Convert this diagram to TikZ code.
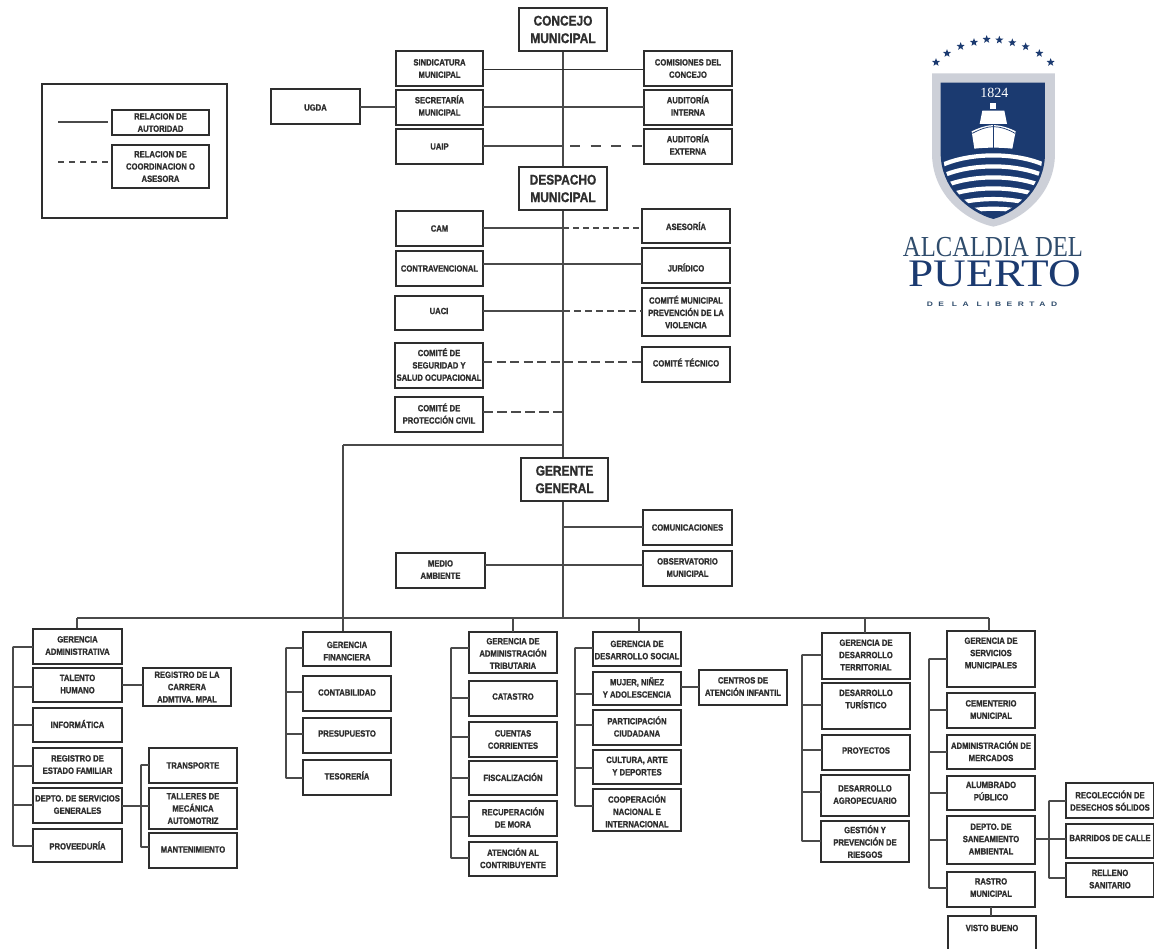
\documentclass[tikz,border=0pt]{standalone}
\usepackage{fontspec}
\newfontfamily\lblfont{Liberation Sans}[BoldFeatures={FakeStretch=0.85,FakeBold=1.2}]
\newfontfamily\serifl{Liberation Serif}
\newfontfamily\sansl{Liberation Sans}[LetterSpace=65]
\usetikzlibrary{shapes.geometric}
\definecolor{ink}{HTML}{2E2E2E}
\definecolor{wire}{HTML}{4A4A4A}
\definecolor{navy}{HTML}{1B3A70}
\definecolor{shieldgrey}{HTML}{CDD0D8}
\definecolor{logotext}{HTML}{2F4C6C}
\tikzset{
  boxshape/.style={draw=ink,line width=1.5pt,fill=white,inner sep=0pt,outer sep=0pt},
  txt/.style={inner sep=0pt,align=center,text=ink,font=\lblfont\bfseries\fontsize{9}{12.3}\selectfont},
  big/.style={font=\lblfont\bfseries\fontsize{14}{17.5}\selectfont},
  wireline/.style={draw=wire,line width=1.2pt},
  thin wire/.style={draw=ink,line width=0.9pt},
  dash wire/.style={draw=wire,line width=1.2pt,dash pattern=on 8pt off 6pt},
}
% [text style]{name}{x1}{y1}{x2}{y2}{text}
\newcommand\bx[7][]{%
  \pgfmathsetmacro\bw{#5-#3}\pgfmathsetmacro\bh{#6-#4}%
  \pgfmathsetmacro\bcx{(#3+#5)/2}\pgfmathsetmacro\bcy{(#4+#6)/2}%
  \node[boxshape,minimum width=\bw pt,minimum height=\bh pt] (#2) at (\bcx,\bcy) {};%
  \node[txt,#1] (#2-t) at (\bcx,\bcy) {#7};%
}
\newcommand\hcon[4][wireline]{\coordinate (P) at (0,#4);\draw[#1] (#2.east |- P) -- (#3.west |- P);}
\newcommand\bus[4]{\coordinate (#1) at (#2,0);\coordinate (Pa) at (0,#3);\coordinate (Pb) at (0,#4);\draw[wireline,line cap=round] (#1 |- Pa) -- (#1 |- Pb);}
\newcommand\branch[4][wireline]{\coordinate (P) at (0,#4);\draw[#1] (#2 |- P) -- (#3.west |- P);}
\newcommand\drop[2]{\coordinate (Q) at (#1,618);\draw[wireline] (Q) -- (Q |- #2.north);}
\begin{document}
\begin{tikzpicture}[x=1pt,y=-1pt]
\fill[white] (0,0) rectangle (1154,948);
\useasboundingbox (0,0) rectangle (1154,948);

% ---------- connectors first (boxes sit on top)
\coordinate (trunk) at (563,0);
\coordinate (cTop) at (563,51);
\coordinate (cBot) at (563,618);
\draw[wireline] (cTop) -- (cBot);
\coordinate (leftcorner) at (343,445);
\draw[wireline] (trunk |- leftcorner) -- (leftcorner);
\coordinate (bar) at (77,618);
\coordinate (barR) at (989,618);
\draw[wireline] (bar) -- (barR);
\draw[wireline] (leftcorner) -- (343,631);
\draw[wireline] (bar) -- (77,629);

% ---------- top group
\bx[big]{concejo}{519}{8}{607}{51}{CONCEJO\\MUNICIPAL}
\bx{sind}{396}{51}{483}{86}{SINDICATURA\\MUNICIPAL}
\bx{comis}{644}{51}{732}{86}{COMISIONES DEL\\CONCEJO}
\bx[yshift=2pt]{secre}{396}{90}{483}{125}{SECRETARÍA\\MUNICIPAL}
\bx[yshift=2pt]{audi}{644}{90}{732}{125}{AUDITORÍA\\INTERNA}
\bx{uaip}{396}{129}{483}{164}{UAIP}
\bx[yshift=2pt]{audex}{644}{129}{732}{164}{AUDITORÍA\\EXTERNA}
\bx[yshift=-1pt]{ugda}{271}{89}{360}{124}{UGDA}
\bx[big]{despacho}{519}{167}{607}{210}{DESPACHO\\MUNICIPAL}
\hcon[thin wire]{sind}{comis}{69}
\hcon{secre}{audi}{107}
\hcon{ugda}{secre}{107}
\coordinate (P) at (0,146);
\draw[wireline] (uaip.east |- P) -- (trunk |- P);
\coordinate (dashstart) at (570,146);
\draw[dash wire,dash pattern=on 10pt off 10.5pt] (dashstart) -- (audex.west |- P);

% ---------- despacho group
\bx{cam}{396}{211}{483}{246}{CAM}
\bx{aseso}{642}{209}{730}{243}{ASESORÍA}
\bx{contra}{396}{251}{483}{286}{CONTRAVENCIONAL}
\bx[yshift=-2pt]{juri}{642}{248}{730}{283}{JURÍDICO}
\bx[yshift=2pt]{uaci}{395}{296}{483}{330}{UACI}
\bx{preven}{642}{288}{730}{336}{COMITÉ MUNICIPAL\\PREVENCIÓN DE LA\\VIOLENCIA}
\bx[yshift=1pt]{segur}{395}{343}{483}{388}{COMITÉ DE\\SEGURIDAD Y\\SALUD OCUPACIONAL}
\bx[yshift=2pt]{tecnico}{642}{347}{730}{382}{COMITÉ TÉCNICO}
\bx[yshift=1pt]{civil}{395}{397}{483}{432}{COMITÉ DE\\PROTECCIÓN CIVIL}
\coordinate (P) at (0,228);
\draw[wireline] (cam.east |- P) -- (trunk |- P);
\draw[dash wire,dash pattern=on 6pt off 4pt] (trunk |- P) -- (aseso.west |- P);
\hcon{contra}{juri}{264}
\coordinate (P) at (0,311);
\draw[wireline] (uaci.east |- P) -- (trunk |- P);
\draw[dash wire,dash pattern=on 7pt off 4pt] (trunk |- P) -- (preven.west |- P);
\hcon[dash wire,dash pattern=on 9pt off 4.5pt]{segur}{tecnico}{362}
\coordinate (P) at (0,412);
\draw[dash wire,dash pattern=on 10pt off 4pt] (civil.east |- P) -- (trunk |- P);

% ---------- gerente group
\bx[big]{gerente}{521}{458}{608}{501}{GERENTE\\GENERAL}
\bx{comun}{643}{510}{732}{545}{COMUNICACIONES}
\bx[yshift=1pt]{obser}{643}{551}{732}{586}{OBSERVATORIO\\MUNICIPAL}
\bx[yshift=1pt]{medio}{396}{553}{485}{588}{MEDIO\\AMBIENTE}
\coordinate (P) at (0,527);
\draw[wireline] (trunk |- P) -- (comun.west |- P);
\hcon{medio}{obser}{565}

% ---------- legend
\node[draw=ink,line width=1.1pt,minimum width=185pt,minimum height=134pt,inner sep=0pt] (legend) at (134.5,151) {};
\bx{relauto}{112}{110}{209}{135}{RELACION DE\\AUTORIDAD}
\bx{relcoor}{112}{145}{209}{188}{RELACION DE\\COORDINACION O\\ASESORA}
\coordinate (la) at (58,122);\coordinate (lb) at (58,162);
\coordinate (lc) at (108,122);\coordinate (ld) at (108,162);
\draw[wireline] (la) -- (lc);
\draw[dash wire,dash pattern=on 6pt off 5pt] (lb) -- (ld);

% ---------- gerencia administrativa
\bx[yshift=1pt]{gadm}{33}{629}{122}{664}{GERENCIA\\ADMINISTRATIVA}
\bx[yshift=1pt]{talento}{33}{668}{122}{702}{TALENTO\\HUMANO}
\bx[yshift=1pt]{infor}{33}{708}{122}{742}{INFORMÁTICA}
\bx[yshift=1pt]{regest}{33}{748}{122}{783}{REGISTRO DE\\ESTADO FAMILIAR}
\bx[yshift=1pt]{deptoS}{33}{788}{122}{823}{DEPTO. DE SERVICIOS\\GENERALES}
\bx{provee}{33}{829}{122}{862}{PROVEEDURÍA}
\bus{bA}{13}{647}{846}
\branch{bA}{gadm}{647}\branch{bA}{talento}{687}\branch{bA}{infor}{725}
\branch{bA}{regest}{766}\branch{bA}{deptoS}{805}\branch{bA}{provee}{846}
\bx{regcar}{143}{668}{231}{706}{REGISTRO DE LA\\CARRERA\\ADMTIVA. MPAL}
\hcon{talento}{regcar}{685}
\bx{transp}{149}{748}{237}{783}{TRANSPORTE}
\bx{taller}{149}{788}{237}{829}{TALLERES DE\\MECÁNICA\\AUTOMOTRIZ}
\bx[yshift=1pt]{mante}{149}{833}{237}{868}{MANTENIMIENTO}
\bus{bB}{141}{765}{847}
\branch{bB}{transp}{765}\branch{bB}{mante}{847}
\hcon{deptoS}{taller}{806}

% ---------- financiera
\bx[yshift=-2pt]{gfin}{303}{632}{391}{666}{GERENCIA\\FINANCIERA}
\bx[yshift=1pt]{conta}{303}{676}{391}{711}{CONTABILIDAD}
\bx[yshift=2pt]{presu}{303}{718}{391}{753}{PRESUPUESTO}
\bx[yshift=2pt]{tesor}{303}{760}{391}{795}{TESORERÍA}
\bus{bC}{286}{648}{778}
\branch{bC}{gfin}{648}\branch{bC}{conta}{692}\branch{bC}{presu}{734}\branch{bC}{tesor}{778}

% ---------- tributaria
\bx[yshift=-1pt]{gtri}{469}{632}{557}{673}{GERENCIA DE\\ADMINISTRACIÓN\\TRIBUTARIA}
\bx[yshift=2pt]{catas}{469}{681}{557}{716}{CATASTRO}
\bx{cuent}{469}{722}{557}{757}{CUENTAS\\CORRIENTES}
\bx[yshift=1pt]{fisca}{469}{761}{557}{795}{FISCALIZACIÓN}
\bx[yshift=1pt]{recup}{469}{801}{557}{836}{RECUPERACIÓN\\DE MORA}
\bx[yshift=1pt]{atenc}{469}{842}{557}{876}{ATENCIÓN AL\\CONTRIBUYENTE}
\bus{bD}{451}{648}{858}
\branch{bD}{gtri}{648}\branch{bD}{catas}{698}\branch{bD}{cuent}{737}
\branch{bD}{fisca}{778}\branch{bD}{recup}{817}\branch{bD}{atenc}{858}
\drop{513}{gtri}

% ---------- social
\bx[yshift=-1pt]{gsoc}{593}{632}{681}{666}{GERENCIA DE\\DESARROLLO SOCIAL}
\bx[yshift=1pt]{mujer}{593}{672}{681}{705}{MUJER, NIÑEZ\\Y ADOLESCENCIA}
\bx[yshift=1pt]{parti}{593}{710}{681}{745}{PARTICIPACIÓN\\CIUDADANA}
\bx[yshift=1pt]{cultu}{593}{750}{681}{784}{CULTURA, ARTE\\Y DEPORTES}
\bx[yshift=-1pt]{coope}{593}{789}{681}{831}{COOPERACIÓN\\NACIONAL E\\INTERNACIONAL}
\bus{bE}{575}{648}{806}
\branch{bE}{gsoc}{648}\branch{bE}{mujer}{694}\branch{bE}{parti}{725}
\branch{bE}{cultu}{768}\branch{bE}{coope}{806}
\drop{639}{gsoc}
\bx[yshift=1pt]{centros}{699}{670}{787}{705}{CENTROS DE\\ATENCIÓN INFANTIL}
\hcon{mujer}{centros}{687}

% ---------- territorial
\bx[yshift=1pt]{gter}{822}{633}{910}{679}{GERENCIA DE\\DESARROLLO\\TERRITORIAL}
\bx[yshift=7pt]{turis}{822}{683}{910}{729}{DESARROLLO\\TURÍSTICO}
\bx[yshift=2pt]{proye}{822}{735}{910}{770}{PROYECTOS}
\bx[yshift=1pt]{agrop}{821}{775}{909}{816}{DESARROLLO\\AGROPECUARIO}
\bx{gesti}{821}{821}{909}{862}{GESTIÓN Y\\PREVENCIÓN DE\\RIESGOS}
\bus{bF}{802}{655}{841}
\branch{bF}{gter}{655}\branch{bF}{turis}{705}\branch{bF}{proye}{750}
\branch{bF}{agrop}{792}\branch{bF}{gesti}{841}
\drop{865}{gter}

% ---------- servicios
\bx[yshift=6pt]{gser}{947}{631}{1035}{687}{GERENCIA DE\\SERVICIOS\\MUNICIPALES}
\bx[yshift=1pt]{cemen}{947}{693}{1035}{728}{CEMENTERIO\\MUNICIPAL}
\bx[yshift=1pt]{merca}{947}{735}{1035}{769}{ADMINISTRACIÓN DE\\MERCADOS}
\bx[yshift=2pt]{alumb}{947}{776}{1035}{810}{ALUMBRADO\\PÚBLICO}
\bx[yshift=1pt]{sanea}{947}{816}{1035}{864}{DEPTO. DE\\SANEAMIENTO\\AMBIENTAL}
\bx[yshift=2pt]{rastro}{947}{872}{1035}{907}{RASTRO\\MUNICIPAL}
\bx[yshift=6pt]{visto}{948}{916}{1036}{952}{VISTO BUENO}
\bus{bG}{929}{659}{888}
\branch{bG}{gser}{659}\branch{bG}{cemen}{710}\branch{bG}{merca}{752}
\branch{bG}{alumb}{793}\branch{bG}{sanea}{840}\branch{bG}{rastro}{888}
\drop{989}{gser}
\coordinate (rv) at (991,907);
\draw[wireline] (rv) -- (rv |- visto.north);
\bx{recol}{1066}{783}{1154}{818}{RECOLECCIÓN DE\\DESECHOS SÓLIDOS}
\bx[yshift=3pt]{barri}{1066}{824}{1154}{858}{BARRIDOS DE CALLE}
\bx[yshift=1pt]{relle}{1066}{863}{1154}{897}{RELLENO\\SANITARIO}
\bus{bH}{1049}{801}{878}
\branch{bH}{recol}{801}\branch{bH}{relle}{878}
\hcon{sanea}{barri}{839}

% ---------- logo (coordinates: 3x crop at 925,70)
\begin{scope}[shift={(925,70)},x=0.3333pt,y=-0.3333pt]
  \fill[shieldgrey] (21,10) -- (390,10) -- (390,250) .. controls (390,370) and (295,450) .. (205,470) .. controls (115,450) and (21,370) .. (21,250) -- cycle;
  \fill[navy] (47,38) -- (360,38) -- (360,250) .. controls (360,350) and (285,425) .. (205,447) .. controls (125,425) and (47,350) .. (47,250) -- cycle;
  \node[text=white,font=\serifl\fontsize{14}{14}\selectfont,inner sep=0pt] (year) at (208,70) {1824};
  % ship
  \fill[white] (196,100) rectangle (214,116);
  \fill[white] (172,122) -- (238,122) -- (246,162) -- (164,162) -- cycle;
  \fill[white] (140,184) .. controls (165,172) and (185,166) .. (205,165) .. controls (225,166) and (250,172) .. (272,184) -- (262,236) .. controls (225,232) and (185,232) .. (148,236) -- cycle;
  \draw[navy,line width=0.7pt] (205,166) -- (205,234);
  \draw[navy,line width=0.7pt] (142,190) .. controls (165,178) and (185,170) .. (205,170) .. controls (225,170) and (250,178) .. (270,190);
  % waves
  \begin{scope}
    \clip (55,240) -- (352,240) -- (352,255) .. controls (352,345) and (280,418) .. (205,438) .. controls (130,418) and (55,345) .. (55,255) -- cycle;
    \foreach \m in {254,287,320,353,385,414}
      \draw[white,line width=4.2pt] (30,\m+42) .. controls (120,\m-11) and (290,\m-11) .. (380,\m+42);
  \end{scope}
\end{scope}
\begin{scope}[shift={(860,20)},x=0.3333pt,y=-0.3333pt]
  \foreach \sx/\sy in {228/127,261/100,302/79,342/67,380/58,418/60,457/68,497/80,538/100,572/127}
    \node[star,star points=5,star point ratio=2.4,fill=navy,inner sep=0pt,minimum size=8.5pt] at (\sx,\sy) {};
\end{scope}
\node[text=logotext,inner sep=0pt] (alcaldia) at (993,247) {\scalebox{.85}[1]{\serifl\fontsize{29}{29}\selectfont ALCALDIA DEL}};
\node[text=navy,inner sep=0pt] (puerto) at (995,274) {\scalebox{1.16}[1]{\serifl\fontsize{39}{39}\selectfont PUERTO}};
\node[text=logotext,inner sep=0pt] (libertad) at (992,304) {\scalebox{1.3}[1]{\sansl\bfseries\fontsize{6.5}{7}\selectfont DE LA LIBERTAD}};
\end{tikzpicture}
\end{document}
